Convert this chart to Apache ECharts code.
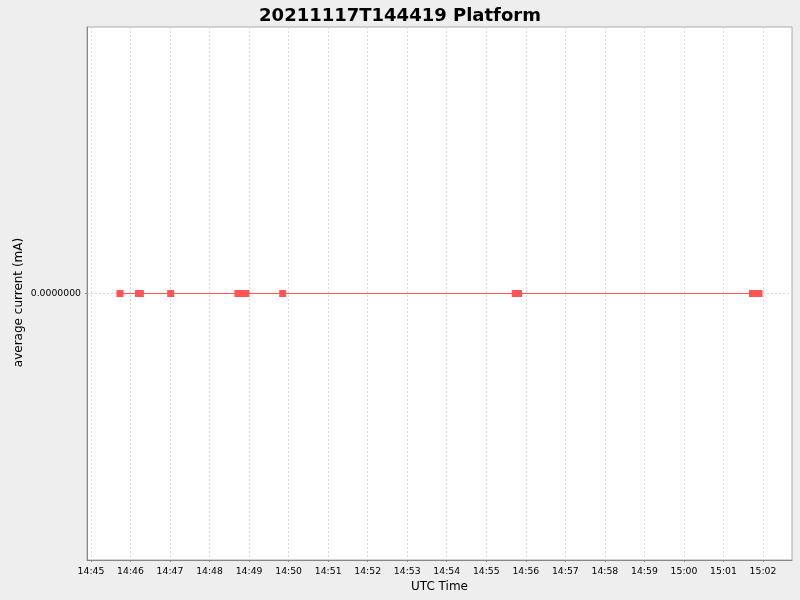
<!DOCTYPE html>
<html><head><meta charset="utf-8">
<script src="https://cdn.jsdelivr.net/npm/echarts@6/dist/echarts.min.js"></script>
<style>html,body{margin:0;padding:0;background:#EEEEEE;}#c{width:800px;height:600px;}</style>
</head><body><div id="c"></div>
<script>
// sample times (UTC, 2021-11-17) and average current values (mA)
const sampleTimes = ["14:45:44","14:46:12","14:46:15","14:47:01","14:48:43","14:48:49","14:48:55","14:49:51","14:55:44","14:55:49","15:01:44","15:01:49","15:01:54"];
const currentValues = [0,0,0,0,0,0,0,0,0,0,0,0,0];
const tickLabels = ["14:45","14:46","14:47","14:48","14:49","14:50","14:51","14:52","14:53","14:54","14:55","14:56","14:57","14:58","14:59","15:00","15:01","15:02"];
const axisStart = "14:44:54";
const axisEnd = "15:02:44";
const yTicks = [0];

// seconds since 00:00 UTC
function sec(s){const p=s.split(':').map(Number);return p[0]*3600+p[1]*60+(p[2]||0);}
function pad(n){return (n<10?'0':'')+n;}
const chart = echarts.init(document.getElementById('c'), null, {renderer:'canvas'});
const tickVals = tickLabels.map(sec);
const gridLine = {show:true, lineStyle:{color:'#d8d8d8', type:[2,2], width:1}};
chart.setOption({
  animation: false,
  backgroundColor: '#EEEEEE',
  title: {text:'20211117T144419 Platform', left:'center', top:2,
    textStyle:{fontFamily:'DejaVu Sans', fontWeight:'bold', fontSize:18, color:'#000'}},
  grid: {left:87, right:8, top:27, bottom:40, outerBoundsMode:'none', containLabel:false,
    show:true, backgroundColor:'#fff', borderColor:'#aaa', borderWidth:1},
  xAxis: {
    type:'value', min: sec(axisStart), max: sec(axisEnd),
    name:'UTC Time', nameLocation:'middle', nameGap:21, nameMoveOverlap:false,
    nameTextStyle:{fontFamily:'DejaVu Sans', fontSize:12, color:'#000'},
    axisLine:{show:true, onZero:false, lineStyle:{color:'#888', width:1}},
    axisTick:{show:true, customValues: tickVals, length:2, lineStyle:{color:'#888'}},
    axisLabel:{customValues: tickVals, margin:7, fontFamily:'DejaVu Sans', fontSize:9.3, color:'#000',
      formatter: v => pad(Math.floor(v/3600))+':'+pad(Math.floor((v%3600)/60))},
    splitLine: gridLine
  },
  yAxis: {
    type:'value', min:-1, max:1,
    name:'average current (mA)', nameLocation:'middle', nameGap:62, nameMoveOverlap:false,
    nameTextStyle:{fontFamily:'DejaVu Sans', fontSize:12, color:'#000', padding:[0,18,0,0]},
    axisLine:{show:true, onZero:false, lineStyle:{color:'#888', width:1}},
    axisTick:{show:true, customValues: yTicks, length:2, lineStyle:{color:'#888'}},
    axisLabel:{customValues: yTicks, margin:6, fontFamily:'DejaVu Sans', fontSize:9.3, color:'#000',
      formatter: v => v.toFixed(7)},
    splitLine: gridLine
  },
  series: [{
    type:'line',
    data: sampleTimes.map((t,i)=>[sec(t), currentValues[i]]),
    symbol:'rect', symbolSize:[7,7], showAllSymbol:true,
    itemStyle:{color:'#FF5555'},
    lineStyle:{color:'#FF5555', width:1}
  }]
});
</script></body></html>
